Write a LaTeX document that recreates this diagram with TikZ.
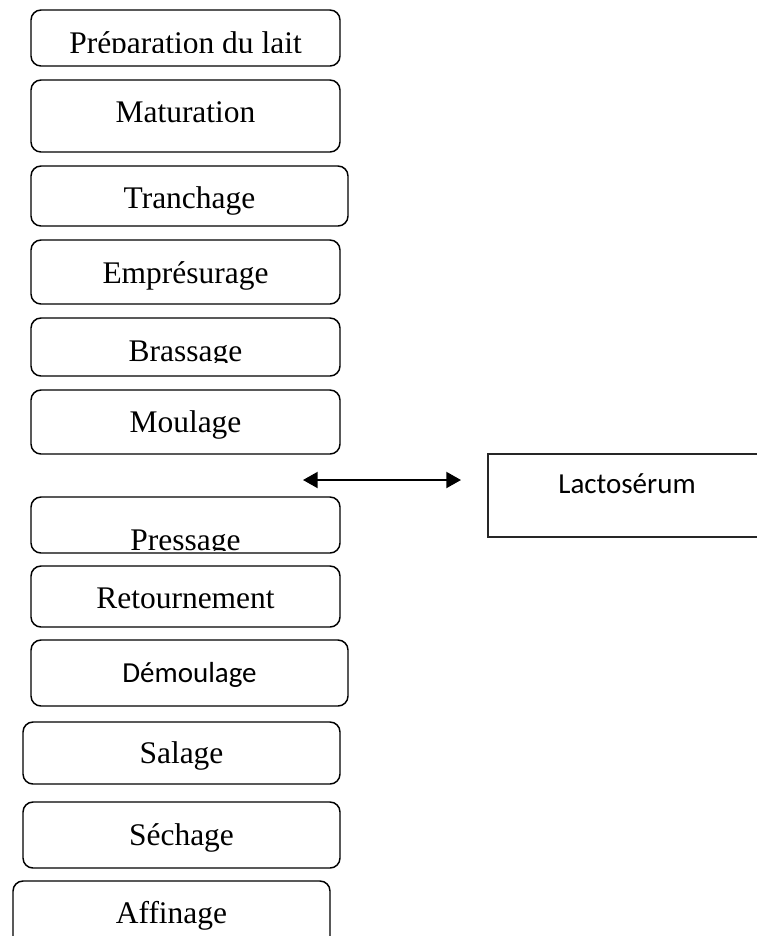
\documentclass[tikz,border=0pt]{standalone}
\usepackage{fontspec}
\setmainfont{Liberation Serif}
\newfontfamily\calibri{Carlito}
\usetikzlibrary{arrows.meta}
\def\u{0.75pt}
\tikzset{
  stepbox/.style={draw=black, line width=1.1pt, rounded corners=7.5pt, inner sep=0pt, fill=none},
  wheybox/.style={draw=black!85, line width=1.5pt, inner sep=0pt},
  steptext/.style={anchor=base, inner sep=0pt, font=\fontsize{23.6pt}{28pt}\selectfont},
  sanstext/.style={anchor=base, inner sep=0pt, font=\calibri\fontsize{21.75pt}{26pt}\selectfont},
  flowarrow/.style={line width=1.5pt, {Triangle[length=11pt,width=12pt]}-{Triangle[length=11pt,width=12pt]}}
}
\begin{document}
\begin{tikzpicture}[x=0.75pt, y=-0.75pt]
\useasboundingbox (0,0) rectangle (757,936);
\clip (0,0) rectangle (757,936);
\fill[white] (0,0) rectangle (757,936);

% boxes
\node[stepbox, minimum width=309*\u, minimum height=56*\u] (prep) at (185.5,38) {};
\node[stepbox, minimum width=309*\u, minimum height=72*\u] (mat) at (185.5,116) {};
\node[stepbox, minimum width=317*\u, minimum height=60*\u] (tran) at (189.5,196) {};
\node[stepbox, minimum width=309*\u, minimum height=64*\u] (empr) at (185.5,272) {};
\node[stepbox, minimum width=309*\u, minimum height=58*\u] (brass) at (185.5,347) {};
\node[stepbox, minimum width=309*\u, minimum height=64*\u] (moul) at (185.5,422) {};
\node[stepbox, minimum width=309*\u, minimum height=56*\u] (press) at (185.5,525) {};
\node[stepbox, minimum width=309*\u, minimum height=61*\u] (ret) at (185.5,596.5) {};
\node[stepbox, minimum width=317*\u, minimum height=66*\u] (dem) at (189.5,673) {};
\node[stepbox, minimum width=317*\u, minimum height=62*\u] (sal) at (181.5,753) {};
\node[stepbox, minimum width=317*\u, minimum height=66*\u] (sech) at (181.5,835) {};
\node[stepbox, minimum width=317*\u, minimum height=69*\u] (aff) at (171.5,915.5) {};
\node[wheybox, minimum width=278*\u, minimum height=83*\u] (lacto) at (627,495.5) {};

% texts
\begin{scope}
  \clip (0,0) rectangle (757,52.8);
  \node[steptext] (prep-t) at (185.5,53) {Préparation du lait};
\end{scope}
\node[steptext] (mat-t) at (185.5,122) {Maturation};
\node[steptext] (tran-t) at (189.5,208) {Tranchage};
\node[steptext] (empr-t) at (185.5,283) {Emprésurage};
\begin{scope}
  \clip (0,300) rectangle (757,362);
  \node[steptext] (brass-t) at (185.5,361) {Brassage};
\end{scope}
\node[steptext] (moul-t) at (185.5,432) {Moulage};
\begin{scope}
  \clip (0,480) rectangle (757,550.5);
  \node[steptext] (press-t) at (185.5,550) {Pressage};
\end{scope}
\node[steptext] (ret-t) at (185.5,608) {Retournement};
\node[sanstext] (dem-t) at (189.5,682) {Démoulage};
\node[steptext] (sal-t) at (181.5,763) {Salage};
\node[steptext] (sech-t) at (181.5,845) {Séchage};
\node[steptext] (aff-t) at (171.5,923) {Affinage};
\node[sanstext] (lacto-t) at (627,493) {Lactosérum};

% arrow
\coordinate (al) at (303,480);
\coordinate (ar) at (461,480);
\draw[flowarrow] (al) -- (ar);
\end{tikzpicture}
\end{document}
